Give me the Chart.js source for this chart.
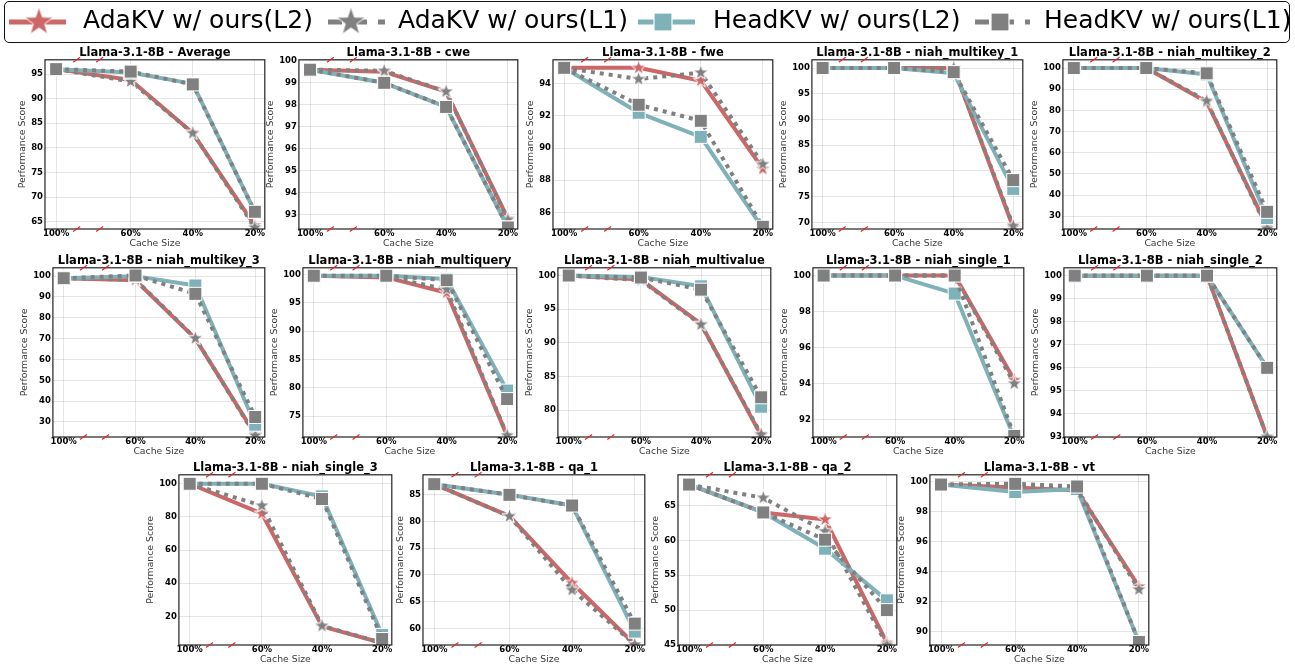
<!DOCTYPE html>
<html>
<head>
<meta charset="utf-8">
<title>Llama-3.1-8B cache size results</title>
<script src="https://cdn.jsdelivr.net/npm/chart.js@4.4.1/dist/chart.umd.min.js"></script>
<style>
  html, body { margin: 0; padding: 0; background: #fff; }
  #page { position: relative; width: 1295px; height: 667px; overflow: hidden; font-family: 'DejaVu Sans', sans-serif; }
  .panel { position: absolute; }
  #legendBox { position: absolute; left: 4px; top: 1px; width: 1284px; height: 40px; border: 1.3px solid #111; border-radius: 5px; }
  #legendMarks { position: absolute; left: 0; top: 0; }
  .lg { position: absolute; top: 7px; font-size: 25px; line-height: 25px; white-space: nowrap; color: #000; }
</style>
</head>
<body>
<div id="page">
  <div id="legendBox"></div>
  <canvas id="legendMarks" width="1295" height="45"></canvas>
  <span class="lg" style="left:83px">AdaKV w/ ours(L2)</span>
  <span class="lg" style="left:398px">AdaKV w/ ours(L1)</span>
  <span class="lg" style="left:713px">HeadKV w/ ours(L2)</span>
  <span class="lg" style="left:1044px">HeadKV w/ ours(L1)</span>
</div>
<script>
// ---- data (order of each row: 100%, 60%, 40%, 20%) ----
const taskNames = ['Average', 'cwe', 'fwe', 'niah_multikey_1', 'niah_multikey_2',
  'niah_multikey_3', 'niah_multiquery', 'niah_multivalue', 'niah_single_1', 'niah_single_2',
  'niah_single_3', 'qa_1', 'qa_2', 'vt'];
const cacheLabels = ['100%', '60%', '40%', '20%'];
const cachePos = [0, 1.2, 2.2, 3.2];   // broken axis: wider gap after 100%
const breakAt = [0.33, 0.7];

const adaL2 = [
  [96.0, 93.8, 83.0, 64.2],
  [99.6, 99.5, 98.6, 92.8],
  [95.0, 95.0, 94.2, 88.7],
  [100, 100, 100, 69.0],
  [100, 100, 84.0, 25.0],
  [99.0, 98.0, 70.0, 24.0],
  [99.8, 99.5, 96.8, 71.5],
  [100, 99.4, 92.8, 76.2],
  [100, 100, 100, 94.2],
  [100, 100, 100, 93.0],
  [100, 82.0, 14.0, 4.0],
  [87.0, 81.0, 68.5, 57.0],
  [68.0, 64.0, 63.0, 45.3],
  [99.8, 99.6, 99.4, 93.0]
];
const adaL1 = [
  [96.0, 93.5, 83.0, 63.8],
  [99.6, 99.55, 98.6, 92.75],
  [95.0, 94.3, 94.7, 89.0],
  [100, 100, 100, 69.3],
  [100, 100, 84.5, 24.2],
  [99.0, 98.3, 70.2, 23.5],
  [99.8, 99.6, 97.4, 71.6],
  [100, 99.3, 92.7, 76.4],
  [100, 100, 100, 94.0],
  [100, 100, 100, 93.0],
  [100, 86.8, 14.4, 4.0],
  [87.0, 81.0, 67.2, 57.0],
  [68.0, 66.1, 61.3, 45.0],
  [99.8, 99.7, 99.5, 92.8]
];
const headL2 = [
  [96.0, 95.3, 93.0, 67.0],
  [99.6, 99.0, 97.9, 92.4],
  [95.0, 92.2, 90.7, 85.0],
  [100, 100, 99.0, 76.5],
  [100, 100, 97.0, 29.2],
  [99.0, 100, 95.5, 28.7],
  [99.8, 99.8, 99.2, 79.5],
  [100, 99.8, 98.4, 80.5],
  [100, 100, 99.0, 91.0],
  [100, 100, 100, 96.0],
  [100, 100, 92.4, 8.8],
  [87.0, 85.0, 83.0, 59.4],
  [68.0, 64.0, 58.8, 51.4],
  [99.8, 99.3, 99.5, 89.3]
];
const headL1 = [
  [96.0, 95.5, 92.9, 67.0],
  [99.6, 99.0, 97.9, 92.4],
  [95.0, 92.7, 91.7, 85.1],
  [100, 100, 99.2, 78.2],
  [100, 100, 97.5, 32.1],
  [99.0, 100.3, 91.5, 32.4],
  [99.8, 99.8, 99.0, 78.0],
  [100, 99.7, 97.9, 81.9],
  [100, 100, 100, 91.1],
  [100, 100, 100, 96.0],
  [100, 100, 90.8, 6.4],
  [87.0, 85.0, 83.0, 60.9],
  [68.0, 64.0, 60.1, 50.0],
  [99.8, 99.85, 99.67, 89.3]
];
const yMin  = [63.5, 92.33, 84.96, 68.7, 24.0, 22.8, 71.3, 76.0, 91.04, 93.0, 2.8, 56.9, 45.0, 89.1];
const yMax  = [97.9, 100.05, 95.5, 101.6, 103.9, 104.0, 101.2, 101.15, 100.43, 100.34, 105.4, 88.75, 69.4, 100.45];
const yStep = [5, 1, 2, 5, 10, 10, 5, 5, 2, 1, 20, 5, 5, 2];

// plot-area boxes [left, top, right, bottom] of each subplot on the page
const boxes = [
  [45, 60, 265, 229], [299, 60, 518, 229], [553, 60, 773, 229], [812, 60, 1023, 229], [1063, 60, 1277, 229],
  [53, 268, 265, 437], [303, 268, 517, 437], [558, 268, 771, 437], [813, 268, 1024, 437], [1064, 268, 1277, 437],
  [179, 475, 392, 645], [423, 475, 645, 645], [678, 475, 897, 645], [930, 475, 1149, 645]
];

const RED = '#cd6666', TEAL = '#7fb1b9', GREY = '#808080';
const FONT = "'DejaVu Sans', sans-serif";
const RIGHT_PAD = 10, X_AXIS_H = 20;

function starMark(color, r) {
  const size = Math.ceil(r * 2 + 3);
  const c = document.createElement('canvas');
  c.width = c.height = size;
  const g = c.getContext('2d');
  g.translate(size / 2, size / 2);
  g.beginPath();
  for (let i = 0; i < 10; i++) {
    const rr = i % 2 ? r * 0.4 : r;
    const ang = -Math.PI / 2 + i * Math.PI / 5;
    g.lineTo(rr * Math.cos(ang), rr * Math.sin(ang));
  }
  g.closePath();
  g.fillStyle = color;
  g.fill();
  g.lineWidth = 1;
  g.strokeStyle = '#fff';
  g.stroke();
  return c;
}
const starRed = starMark(RED, 8);
const starGrey = starMark(GREY, 8);

// spines + broken-axis marks
const framePlugin = {
  id: 'frame',
  afterDraw(chart) {
    const {ctx, chartArea: a} = chart;
    const x = chart.scales.x;
    ctx.save();
    ctx.strokeStyle = '#222';
    ctx.lineWidth = 1.2;
    ctx.strokeRect(a.left, a.top, a.right - a.left, a.bottom - a.top);
    ctx.strokeStyle = '#ee2222';
    ctx.lineWidth = 1.1;
    breakAt.forEach(v => {
      const px = x.getPixelForValue(v);
      [a.top, a.bottom].forEach(py => {
        ctx.beginPath();
        ctx.moveTo(px - 3.5, py + 2.5);
        ctx.lineTo(px + 3.5, py - 2.5);
        ctx.stroke();
      });
    });
    ctx.restore();
  }
};

function seriesFor(i) {
  const pts = arr => arr.map((y, k) => ({x: cachePos[k], y}));
  const common = {clip: 0, borderWidth: 4, borderJoinStyle: 'round', tension: 0, fill: false};
  return [
    {...common, label: 'AdaKV w/ ours(L2)', data: pts(adaL2[i]), borderColor: RED,
      pointStyle: starRed, order: 4},
    {...common, label: 'AdaKV w/ ours(L1)', data: pts(adaL1[i]), borderColor: GREY, borderDash: [4, 5],
      pointStyle: starGrey, order: 3},
    {...common, label: 'HeadKV w/ ours(L2)', data: pts(headL2[i]), borderColor: TEAL,
      pointStyle: 'rect', pointRadius: 9.2, pointBackgroundColor: TEAL, pointBorderColor: '#fff', pointBorderWidth: 1, order: 2},
    {...common, label: 'HeadKV w/ ours(L1)', data: pts(headL1[i]), borderColor: GREY, borderDash: [4, 5],
      pointStyle: 'rect', pointRadius: 9.2, pointBackgroundColor: GREY, pointBorderColor: '#fff', pointBorderWidth: 1, order: 1}
  ];
}

const page = document.getElementById('page');
const gridColor = 'rgba(0,0,0,0.1)';

taskNames.forEach((name, i) => {
  const [L, T, R, B] = boxes[i];
  const holder = document.createElement('div');
  holder.className = 'panel';
  const cv = document.createElement('canvas');
  cv.width = (R - L) + 70;
  cv.height = (B - T) + 40;
  holder.appendChild(cv);
  page.appendChild(holder);
  const step = yStep[i];

  const chart = new Chart(cv, {
    type: 'line',
    data: {datasets: seriesFor(i)},
    options: {
      responsive: false,
      maintainAspectRatio: false,
      animation: false,
      events: [],
      layout: {padding: {left: 0, right: RIGHT_PAD, top: 0, bottom: 0}},
      plugins: {
        legend: {display: false},
        tooltip: {enabled: false},
        title: {
          display: true, fullSize: false,
          text: 'Llama-3.1-8B - ' + name,
          color: '#000',
          font: {family: FONT, size: 11.5, weight: 'bold', lineHeight: 1.2},
          padding: {top: 0, bottom: 0}
        }
      },
      scales: {
        x: {
          type: 'linear', min: -0.18, max: 3.36,
          afterBuildTicks: s => { s.ticks = cachePos.map(v => ({value: v})); },
          afterFit: s => { s.height = X_AXIS_H; },
          ticks: {
            callback: (v, k) => cacheLabels[k],
            color: '#000', padding: 0, maxRotation: 0, autoSkip: false,
            font: {family: FONT, size: 8.5, weight: 'bold'}
          },
          grid: {color: gridColor, lineWidth: 1, drawTicks: false},
          border: {display: false},
          title: {display: true, text: 'Cache Size', color: '#3a3a3a',
            font: {family: FONT, size: 9.3}, padding: {top: 0, bottom: 0}}
        },
        y: {
          min: yMin[i], max: yMax[i],
          afterBuildTicks: s => {
            const t = [];
            for (let v = Math.ceil(yMin[i] / step - 1e-9) * step; v <= yMax[i] + 1e-9; v += step) {
              t.push({value: Math.round(v * 1000) / 1000});
            }
            s.ticks = t;
          },
          ticks: {
            callback: v => String(v),
            autoSkip: false, color: '#000', padding: 2,
            font: {family: FONT, size: 8.5, weight: 'bold'}
          },
          grid: {color: gridColor, lineWidth: 1, drawTicks: false},
          border: {display: false},
          title: {display: true, text: 'Performance Score', color: '#3a3a3a',
            font: {family: FONT, size: 9.3}, padding: {top: 2, bottom: 1}}
        }
      }
    },
    plugins: [framePlugin]
  });

  let a = chart.chartArea;
  chart.resize(Math.round(a.left + (R - L) + RIGHT_PAD), Math.round(a.top + (B - T) + X_AXIS_H));
  a = chart.chartArea;
  holder.style.left = Math.round(L - a.left) + 'px';
  holder.style.top = Math.round(T - a.top) + 'px';
});

// legend handles
(function drawLegendMarks() {
  const g = document.getElementById('legendMarks').getContext('2d');
  const Y = 22;
  function seg(x1, x2, color, dash) {
    g.save();
    g.strokeStyle = color;
    g.lineWidth = 5;
    g.setLineDash(dash || []);
    g.beginPath();
    g.moveTo(x1, Y);
    g.lineTo(x2, Y);
    g.stroke();
    g.restore();
  }
  function square(cx, color) {
    g.fillStyle = color;
    g.fillRect(cx - 9, Y - 9, 18, 18);
    g.strokeStyle = '#fff';
    g.lineWidth = 1.2;
    g.strokeRect(cx - 9, Y - 9, 18, 18);
  }
  const bigRed = starMark(RED, 15), bigGrey = starMark(GREY, 15);
  seg(9, 66, RED);
  g.drawImage(bigRed, 39 - bigRed.width / 2, Y - bigRed.height / 2);
  seg(328, 385, GREY, [14, 11]);
  g.drawImage(bigGrey, 351 - bigGrey.width / 2, Y - bigGrey.height / 2);
  seg(638, 695, TEAL);
  square(663, TEAL);
  seg(975, 1030, GREY, [14, 11]);
  square(1000, GREY);
})();
</script>
</body>
</html>
